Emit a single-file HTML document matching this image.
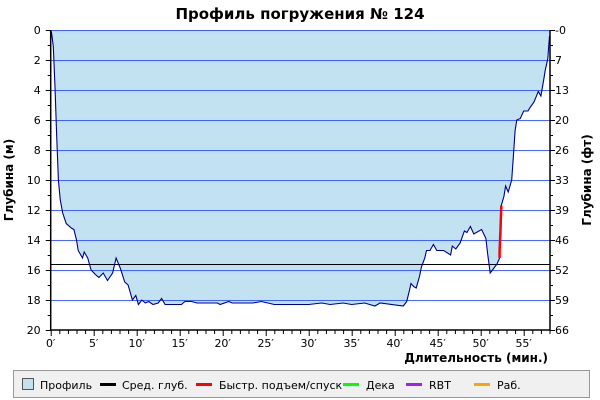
<!DOCTYPE html>
<html><head><meta charset="utf-8"><style>
body{margin:0;background:#fff;}
svg{display:block;font-family:"DejaVu Sans","Liberation Sans",sans-serif;}
</style></head><body>
<svg id="c" width="600" height="400" viewBox="0 0 600 400">
<text x="300" y="19" text-anchor="middle" font-size="15" font-weight="bold">Профиль погружения № 124</text>
<g id="plot"></g>
<text transform="translate(13,180) rotate(-90)" text-anchor="middle" font-size="12" font-weight="bold">Глубина (м)</text>
<text transform="translate(591,180) rotate(-90)" text-anchor="middle" font-size="12" font-weight="bold">Глубина (фт)</text>
<text x="548" y="362" text-anchor="end" font-size="12" font-weight="bold">Длительность (мин.)</text>
<g>
<rect x="13.5" y="370.5" width="576" height="27" fill="#f0f0f0" stroke="#999"/>
<rect x="22.5" y="378.5" width="11" height="11" fill="#c2e2f2" stroke="#555"/>
<text x="40" y="389" font-size="11">Профиль</text>
<rect x="100" y="383" width="16" height="3" fill="#000"/>
<text x="122" y="389" font-size="11">Сред. глуб.</text>
<rect x="196" y="383" width="16" height="3" fill="#f00"/>
<text x="219" y="389" font-size="11">Быстр. подъем/спуск</text>
<rect x="343" y="383" width="16" height="3" fill="#0f0"/>
<text x="366" y="389" font-size="11">Дека</text>
<rect x="406" y="383" width="16" height="3" fill="#a020f0"/>
<text x="429" y="389" font-size="11">RBT</text>
<rect x="474" y="383" width="16" height="3" fill="#ffa500"/>
<text x="497" y="389" font-size="11">Раб.</text>
</g>
</svg>
<script>
const times=[0,0.1,0.3,0.5,0.7,0.9,1.1,1.4,1.8,2.4,2.7,3.0,3.2,3.7,3.9,4.3,4.7,5.2,5.6,6.1,6.6,7.2,7.6,8.1,8.6,9.0,9.5,9.9,10.2,10.6,11.0,11.4,11.9,12.5,12.9,13.3,15.2,15.6,16.4,17,19.4,19.7,20.7,21.1,23.5,24.5,26,28,30,31.5,32.5,34,35,36.5,37.7,38.3,41.0,41.4,41.7,41.9,42.2,42.5,42.9,43.1,43.5,43.7,44.1,44.5,44.9,45.7,46.5,46.7,47.1,47.6,48.1,48.4,48.8,49.2,50.1,50.6,50.8,51.1,51.5,51.9,52.2,52.2,52.3,52.4,52.7,52.9,53.2,53.6,53.8,54.0,54.2,54.6,55.0,55.5,55.7,56.2,56.7,57.0,57.3,57.5,57.8,58.0];
const depths=[0,0.2,1.1,3.8,7.1,10,11.3,12.2,12.9,13.2,13.3,14,14.7,15.2,14.8,15.2,16,16.3,16.5,16.2,16.7,16.2,15.2,15.9,16.8,17,18,17.7,18.3,18.0,18.2,18.1,18.3,18.2,17.9,18.3,18.3,18.1,18.1,18.2,18.2,18.3,18.1,18.2,18.2,18.1,18.3,18.3,18.3,18.2,18.3,18.2,18.3,18.2,18.4,18.2,18.4,18.1,17.4,16.9,17.1,17.2,16.4,15.8,15.2,14.7,14.7,14.3,14.7,14.7,15,14.4,14.6,14.2,13.4,13.5,13.1,13.6,13.3,13.9,14.9,16.2,15.9,15.6,15.2,14.7,13.3,11.7,11.1,10.4,10.8,10,8.4,6.7,6,5.9,5.4,5.4,5.2,4.8,4.1,4.4,3.4,2.7,1.9,0.4];
const avgDepth=15.6;
const fastStart=84, fastEnd=87;
const xTicks=[0,5,10,15,20,25,30,35,40,45,50,55];
const yTicks=[0,2,4,6,8,10,12,14,16,18,20];
const ftLabels=["-0","7","13","20","26","33","39","46","52","59","66"];
const X0=50.7,PXM=8.6,Y0=30,PYM=15,XR=550,YB=330;
const xs=t=>X0+t*PXM, ys=d=>Y0+d*PYM;
const NS="http://www.w3.org/2000/svg";
const g=document.getElementById('plot');
function mk(tag,a){const e=document.createElementNS(NS,tag);for(const k in a)e.setAttribute(k,a[k]);g.appendChild(e);return e;}
let pts=times.map((t,i)=>xs(t).toFixed(1)+','+ys(depths[i]).toFixed(1));
const area=mk('polygon',{points:xs(times[0])+','+Y0+' '+pts.join(' ')+' '+xs(times[times.length-1])+','+Y0,fill:'#c2e2f2'});


yTicks.forEach((d,i)=>{
 if(i<yTicks.length-1){const l=mk('line',{x1:X0,x2:XR,y1:ys(d)+0.5,y2:ys(d)+0.5,stroke:'#2a4cff','stroke-opacity':0.85});
 
 }
 const t=mk('text',{x:X0-10,y:ys(d)+4,'text-anchor':'end','font-size':11});t.textContent=d;
 
 
 const f=mk('text',{x:XR+5,y:ys(d)+4,'font-size':11});f.textContent=ftLabels[i];
 
 
 mk('line',{x1:X0-5,x2:X0,y1:ys(d)+0.5,y2:ys(d)+0.5,stroke:'#000'});
 mk('line',{x1:XR,x2:XR+5,y1:ys(d)+0.5,y2:ys(d)+0.5,stroke:'#000'});
 if(i<yTicks.length-1){mk('line',{x1:X0-3,x2:X0,y1:ys(d+1)+0.5,y2:ys(d+1)+0.5,stroke:'#000'});mk('line',{x1:XR,x2:XR+3,y1:ys(d+1)+0.5,y2:ys(d+1)+0.5,stroke:'#000'});}
});
const avg=mk('line',{x1:X0,x2:XR,y1:ys(avgDepth)+0.5,y2:ys(avgDepth)+0.5,stroke:'#000','stroke-width':1});


const pl=mk('polyline',{points:pts.join(' '),fill:'none',stroke:'#000080','stroke-width':1.1});


const fp=mk('polyline',{points:pts.slice(fastStart,fastEnd+1).join(' '),fill:'none',stroke:'#f00','stroke-width':2.5});


for(let m=0;m<=58;m++){const big=m%5==0;mk('line',{x1:xs(m)+0.5,x2:xs(m)+0.5,y1:YB,y2:YB+(big?6:4),stroke:'#000'});}
xTicks.forEach(m=>{const t=mk('text',{x:xs(m),y:YB+17,'text-anchor':'middle','font-size':11});t.textContent=m+'′';
 
 });
mk('line',{x1:X0,x2:X0,y1:Y0,y2:YB,stroke:'#000','stroke-width':1.5});
mk('line',{x1:XR,x2:XR,y1:Y0,y2:YB,stroke:'#000','stroke-width':1.5});
mk('line',{x1:X0,x2:XR,y1:YB,y2:YB,stroke:'#000','stroke-width':1.5});
</script>
</body></html>
